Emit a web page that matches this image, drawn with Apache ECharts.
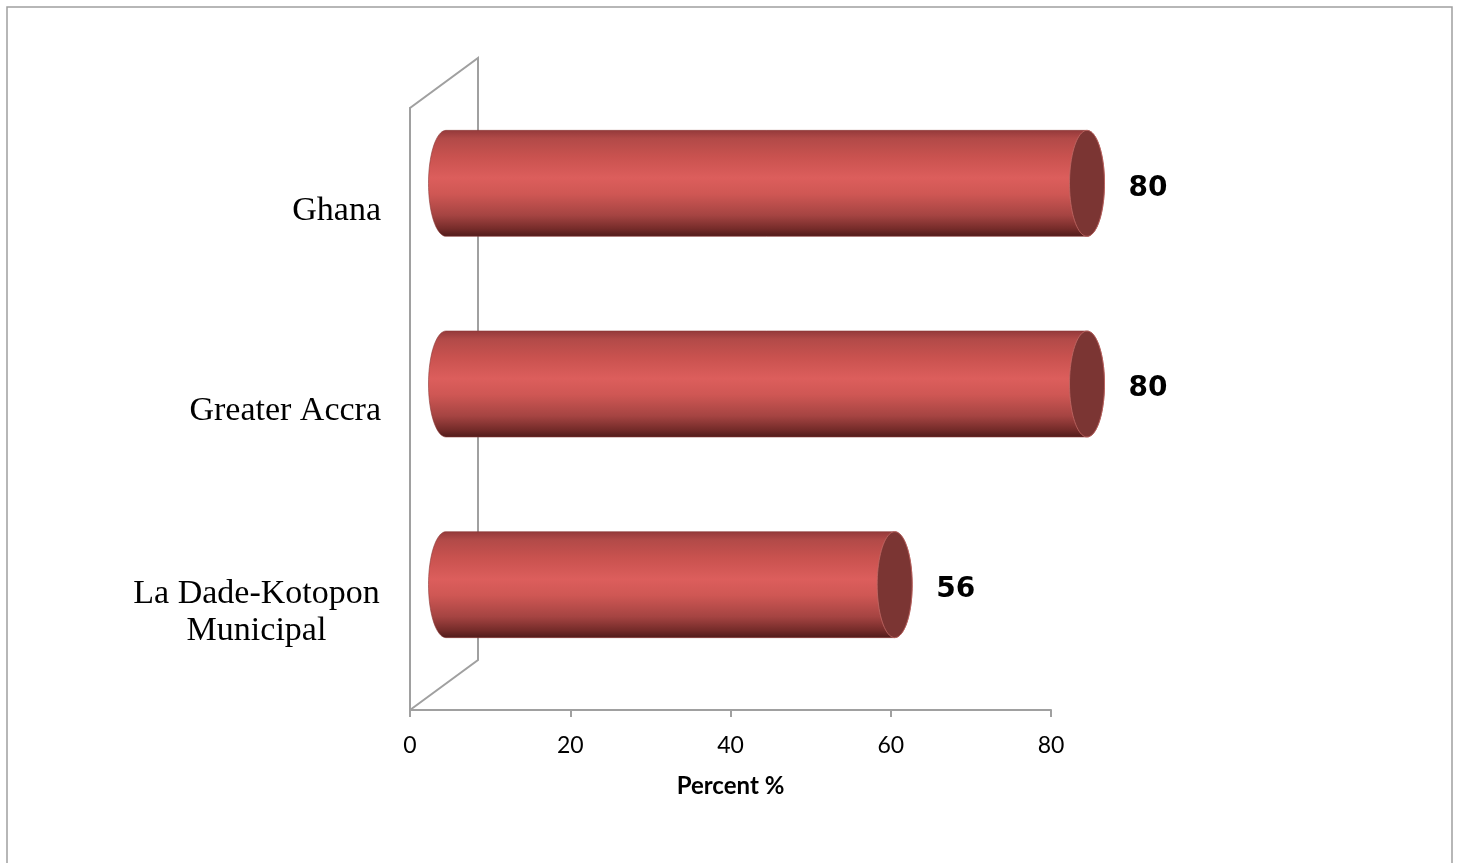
<!DOCTYPE html>
<html><head><meta charset="utf-8">
<script src="https://cdn.jsdelivr.net/npm/echarts@6/dist/echarts.min.js"></script>
<style>html,body{margin:0;padding:0;background:#fff}#c{width:1458px;height:863px}</style>
</head><body><div id="c"></div>
<script>
const categories = ['Ghana', 'Greater Accra', 'La Dade-Kotopon\nMunicipal'];
const values = [80, 80, 56];
const xMin = 0, xMax = 80, xInterval = 20;
const axisTitle = 'Percent %';

const DEPTH_X = 68, DEPTH_Y = 50;
const GRAY = '#a0a0a0';
const CAT_FONT = '34px "Liberation Serif"';

const chart = echarts.init(document.getElementById('c'), null, {renderer: 'canvas'});

const mctx = document.createElement('canvas').getContext('2d');
mctx.font = CAT_FONT;
function textW(t) { return Math.ceil(mctx.measureText(t).width) + 2; }

function ellipsePts(cx, cy, rx, ry, a0, a1, n) {
  const pts = [];
  for (let i = 0; i <= n; i++) {
    const a = a0 + (a1 - a0) * i / n;
    pts.push([cx + rx * Math.cos(a), cy - ry * Math.sin(a)]);
  }
  return pts;
}

function renderWall(params, api) {
  const cs = params.coordSys;
  const x = cs.x, y = cs.y, h = cs.height;
  return {
    type: 'polyline',
    shape: { points: [[x, y + h], [x, y], [x + DEPTH_X, y - DEPTH_Y], [x + DEPTH_X, y + h - DEPTH_Y], [x, y + h]] },
    style: { stroke: GRAY, lineWidth: 2, fill: null },
    z2: 0
  };
}

function renderBar(params, api) {
  const v = api.value(0), ci = api.value(1);
  const s = api.coord([0, ci]), e = api.coord([v, ci]);
  const band = api.size([0, 1])[1];
  const dx = DEPTH_X / 2 + 2, dy = -DEPTH_Y / 2;
  const cy = s[1] + dy, sx = s[0] + dx, ex = e[0] + dx;
  const ry = band * 0.264, rx = 17.5;
  const body = ellipsePts(sx, cy, rx, ry, Math.PI / 2, Math.PI * 1.5, 40)
    .concat(ellipsePts(ex, cy, rx, ry, -Math.PI / 2, Math.PI / 2, 40));
  const cap = ellipsePts(ex, cy, rx, ry, 0, Math.PI * 2, 80);
  const grad = new echarts.graphic.LinearGradient(0, 0, 0, 1, [
    { offset: 0, color: '#93393a' },
    { offset: 0.08, color: '#b24a48' },
    { offset: 0.25, color: '#c9524f' },
    { offset: 0.45, color: '#dc5e5c' },
    { offset: 0.6, color: '#cf5754' },
    { offset: 0.8, color: '#a54442' },
    { offset: 0.93, color: '#742b29' },
    { offset: 1, color: '#4f1b1a' }
  ]);
  return {
    type: 'group',
    children: [
      { type: 'polygon', shape: { points: body }, style: { fill: grad, stroke: '#8a3634', lineWidth: 0.6 } },
      { type: 'polygon', shape: { points: cap }, style: { fill: '#7b3533', stroke: '#c26a66', lineWidth: 0.8 } },
      { type: 'text', x: ex + rx + 24, y: cy + 5,
        style: { text: String(v), fill: '#000', font: 'bold 28px "DejaVu Sans"', align: 'left', verticalAlign: 'middle' } }
    ]
  };
}

const multiW = Math.max.apply(null, categories.filter(c => c.indexOf('\n') >= 0)
  .map(c => Math.max.apply(null, c.split('\n').map(textW))).concat([10]));

const option = {
  animation: false,
  backgroundColor: '#fff',
  graphic: [{
    type: 'rect',
    shape: { x: 7, y: 7, width: 1445, height: 880 },
    style: { fill: null, stroke: GRAY, lineWidth: 1.5 }
  }],
  grid: { left: 410, right: 407, top: 108, bottom: 153, containLabel: false },
  xAxis: {
    type: 'value', min: xMin, max: xMax, interval: xInterval,
    name: axisTitle, nameLocation: 'middle', nameGap: 64,
    nameTextStyle: { fontFamily: 'Lato', fontWeight: 'bold', fontSize: 24, color: '#000' },
    axisLine: { show: true, lineStyle: { color: GRAY, width: 2 } },
    axisTick: { show: true, length: 7, lineStyle: { color: GRAY, width: 2 } },
    axisLabel: { fontFamily: 'Lato', fontSize: 23, color: '#000', margin: 24 },
    splitLine: { show: false }
  },
  yAxis: {
    type: 'category', data: categories, inverse: true,
    axisLine: { show: true, lineStyle: { color: GRAY, width: 2 } },
    axisTick: { show: false },
    axisLabel: {
      fontFamily: 'Liberation Serif', fontSize: 34, color: '#000', margin: 29, lineHeight: 37, align: 'right',
      padding: [5, 0, 0, 0],
      formatter: function (val) {
        if (val.indexOf('\n') < 0) return val;
        return val.split('\n').map(l => '{m|' + l + '}').join('\n');
      },
      rich: { m: { width: multiW, align: 'center', fontFamily: 'Liberation Serif', fontSize: 34, lineHeight: 37, color: '#000' } }
    },
    splitLine: { show: false }
  },
  series: [
    { type: 'custom', renderItem: renderWall, data: [[0, 0]], clip: false, silent: true, z: 1 },
    { type: 'custom', renderItem: renderBar, clip: false, z: 2,
      data: values.map((v, i) => [v, i]) }
  ]
};
chart.setOption(option);
</script></body></html>
